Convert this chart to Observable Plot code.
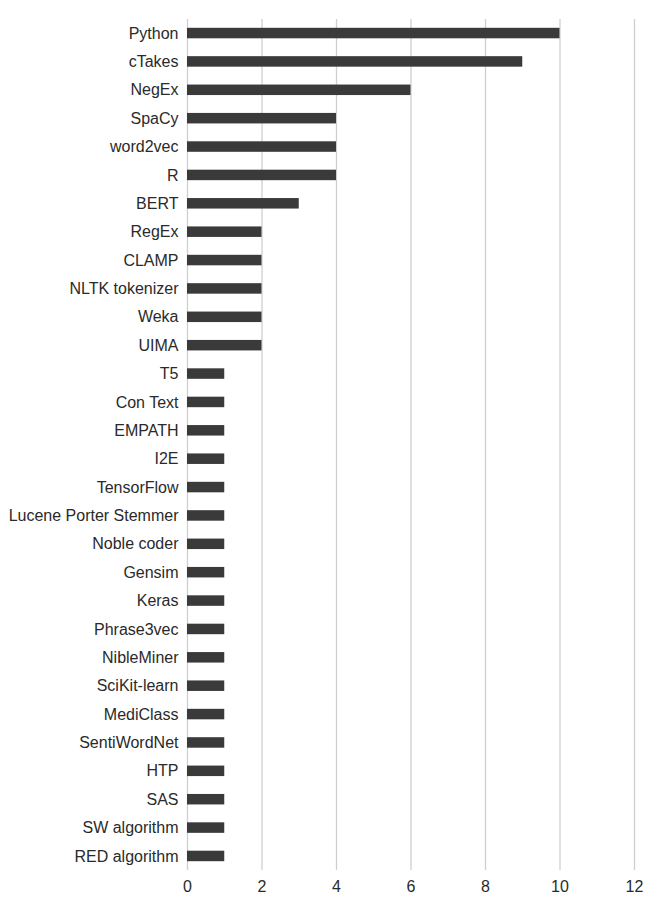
<!DOCTYPE html>
<html>
<head>
<meta charset="utf-8">
<script src="https://cdn.jsdelivr.net/npm/d3@7"></script>
<script src="https://cdn.jsdelivr.net/npm/@observablehq/plot@0.6"></script>
<style>
  html, body { margin: 0; padding: 0; background: #fff; }
</style>
</head>
<body>
<div id="chart"></div>
<script>
const tools = ["Python","cTakes","NegEx","SpaCy","word2vec","R","BERT","RegEx","CLAMP","NLTK tokenizer","Weka","UIMA","T5","Con Text","EMPATH","I2E","TensorFlow","Lucene Porter Stemmer","Noble coder","Gensim","Keras","Phrase3vec","NibleMiner","SciKit-learn","MediClass","SentiWordNet","HTP","SAS","SW algorithm","RED algorithm"];
const counts = [10,9,6,4,4,4,3,2,2,2,2,2,1,1,1,1,1,1,1,1,1,1,1,1,1,1,1,1,1,1];
const xTicks = [0,2,4,6,8,10,12];

const data = tools.map((t, i) => ({tool: t, count: counts[i]}));

const chart = Plot.plot({
  width: 662,
  height: 913,
  marginTop: 19,
  marginBottom: 43,
  marginLeft: 187,
  marginRight: 28,
  style: {fontFamily: "Liberation Sans, Arial, sans-serif", fontSize: "16px", color: "#2a2a2a", background: "#fff"},
  x: {domain: [0, 12], ticks: xTicks, label: null, tickSize: 0, tickPadding: 10},
  y: {domain: tools, label: null, tickSize: 0, tickPadding: 9, paddingInner: 0.63, paddingOuter: 0.31, round: false},
  marks: [
    Plot.ruleX(xTicks, {stroke: "#cfcfcf", strokeWidth: 1.3}),
    Plot.barX(data, {x: "count", y: "tool", fill: "#3a3a3a"})
  ]
});
document.getElementById("chart").appendChild(chart);
</script>
</body>
</html>
